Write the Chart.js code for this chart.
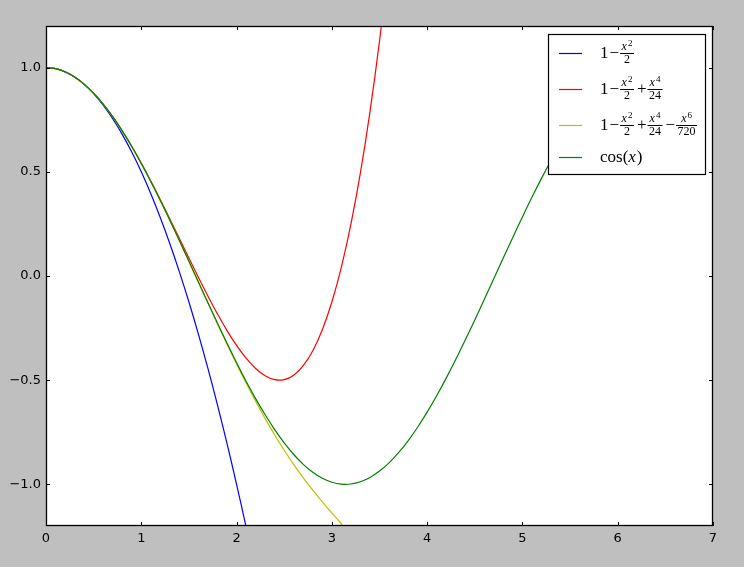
<!DOCTYPE html>
<html><head><meta charset="utf-8">
<style>html,body{margin:0;padding:0;background:#bfbfbf;overflow:hidden;}canvas{display:block;}</style>
<script src="https://cdn.jsdelivr.net/npm/chart.js@4.4.0/dist/chart.umd.min.js"></script>
</head><body>
<canvas id="c" width="744" height="567"></canvas>
<script>
// ---- data ----
const xValues = [0.0,0.1,0.2,0.3,0.4,0.5,0.6,0.7,0.8,0.9,1.0,1.1,1.2,1.3,1.4,1.5,1.6,1.7,1.8,1.9,
  2.0,2.1,2.2,2.3,2.4,2.5,2.6,2.7,2.8,2.9,3.0,3.1,3.2,3.3,3.4,3.5,3.6,3.7,3.8,3.9,
  4.0,4.1,4.2,4.3,4.4,4.5,4.6,4.7,4.8,4.9,5.0,5.1,5.2,5.3,5.4,5.5,5.6,5.7,5.8,5.9,
  6.0,6.1,6.2,6.3];
const taylor2 = [1.0,0.995,0.98,0.955,0.92,0.875,0.82,0.755,0.68,0.595,0.5,0.395,0.28,0.155,0.02,
  -0.125,-0.28,-0.445,-0.62,-0.805,-1.0,-1.205,-1.42];
const taylor4 = [1.0,0.995004,0.980067,0.955338,0.921067,0.877604,0.8254,0.765004,0.697067,0.622338,
  0.541667,0.456004,0.3664,0.274004,0.180067,0.085938,-0.006933,-0.096996,-0.1826,-0.261996,
  -0.333333,-0.394663,-0.443933,-0.478996,-0.4976,-0.497396,-0.475933,-0.430663,-0.358933,-0.257996,
  -0.125,0.043004,0.249067,0.496338,0.788067,1.127604,1.5184];
const taylor6 = [1.0,0.995004,0.980067,0.955337,0.921061,0.877582,0.825336,0.764842,0.696703,0.6216,
  0.540278,0.453544,0.362253,0.2673,0.169609,0.070117,-0.030235,-0.13052,-0.229839,-0.327338,
  -0.422222,-0.513783,-0.601405,-0.684601,-0.763021,-0.83648,-0.904983,-0.968747,-1.028225,-1.08414,
  -1.1375,-1.18964,-1.242241];
const cosine = [1.0,0.995004,0.980067,0.955336,0.921061,0.877583,0.825336,0.764842,0.696707,0.62161,
  0.540302,0.453596,0.362358,0.267499,0.169967,0.070737,-0.0292,-0.128844,-0.227202,-0.32329,
  -0.416147,-0.504846,-0.588501,-0.666276,-0.737394,-0.801144,-0.856889,-0.904072,-0.942222,-0.970958,
  -0.989992,-0.999135,-0.998295,-0.98748,-0.966798,-0.936457,-0.896758,-0.8481,-0.790968,-0.725932,
  -0.653644,-0.574824,-0.490261,-0.400799,-0.307333,-0.210796,-0.112153,-0.012389,0.087499,0.186512,
  0.283662,0.377978,0.468517,0.554374,0.634693,0.70867,0.775566,0.834713,0.88552,0.927478,
  0.96017,0.983268,0.996542,0.999859];
const xTicks = [0,1,2,3,4,5,6,7];
const yTicks = [-1.0,-0.5,0.0,0.5,1.0];
const seriesNames = ['1−x²/2','1−x²/2+x⁴/24','1−x²/2+x⁴/24−x⁶/720','cos(x)'];
const seriesColors = ['#0000ff','#ff0000','#bfbf00','#008000'];
const seriesValues = [taylor2, taylor4, taylor6, cosine];

// legend math labels (text pieces)
const legendMath = [
  [{t:'n',s:'1'},{t:'op',s:'−'},{t:'f',b:'x',e:'2',d:'2'}],
  [{t:'n',s:'1'},{t:'op',s:'−'},{t:'f',b:'x',e:'2',d:'2'},{t:'op',s:'+'},{t:'f',b:'x',e:'4',d:'24'}],
  [{t:'n',s:'1'},{t:'op',s:'−'},{t:'f',b:'x',e:'2',d:'2'},{t:'op',s:'+'},{t:'f',b:'x',e:'4',d:'24'},{t:'op',s:'−'},{t:'f',b:'x',e:'6',d:'720'}],
  [{t:'n',s:'cos'},{t:'n',s:'('},{t:'n',s:'x',it:true},{t:'n',s:')'}]
];

const SERIF = '"Liberation Serif", "DejaVu Serif", serif';
function drawMath(ctx, x, axisY, parts){
  ctx.textBaseline = 'alphabetic'; ctx.textAlign = 'left'; ctx.fillStyle = '#000';
  for (const p of parts){
    if (p.t === 'n'){
      ctx.font = (p.it ? 'italic ' : '') + '17px ' + SERIF;
      ctx.fillText(p.s, x, axisY + 5);
      x += ctx.measureText(p.s).width + (p.it ? 1 : 0);
    } else if (p.t === 'op'){
      x += 1;
      ctx.font = '17px ' + SERIF;
      ctx.fillText(p.s, x, axisY + 5);
      x += ctx.measureText(p.s).width + 1;
    } else if (p.t === 'f'){
      ctx.font = 'italic 12px ' + SERIF; const wb = ctx.measureText(p.b).width;
      ctx.font = '9px ' + SERIF; const ws = ctx.measureText(p.e).width;
      ctx.font = '12px ' + SERIF; const wd = ctx.measureText(p.d).width;
      const wn = wb + ws + 1;
      const W = Math.max(wn, wd) + 3;
      ctx.fillRect(x, axisY, W, 1);
      const nx = x + (W - wn) / 2;
      ctx.font = 'italic 12px ' + SERIF; ctx.fillText(p.b, nx, axisY - 3);
      ctx.font = '9px ' + SERIF; ctx.fillText(p.e, nx + wb + 1, axisY - 7);
      ctx.font = '12px ' + SERIF; ctx.fillText(p.d, x + (W - wd) / 2, axisY + 10);
      x += W + 2;
    }
  }
}

const frame = {
  id: 'frame',
  beforeDraw(chart){
    const {ctx, chartArea: a} = chart;
    ctx.save();
    ctx.fillStyle = '#bfbfbf'; ctx.fillRect(0, 0, chart.width, chart.height);
    ctx.fillStyle = '#ffffff'; ctx.fillRect(a.left, a.top, a.right - a.left, a.bottom - a.top);
    ctx.restore();
  },
  afterDatasetsDraw(chart){
    const {ctx, chartArea: a, scales} = chart;
    ctx.save();
    ctx.strokeStyle = '#000'; ctx.lineWidth = 1;
    ctx.beginPath();
    for (const v of xTicks){
      const px = Math.round(scales.x.getPixelForValue(v)) + 0.5;
      ctx.moveTo(px, a.bottom); ctx.lineTo(px, a.bottom - 4);
      ctx.moveTo(px, a.top); ctx.lineTo(px, a.top + 4);
    }
    for (const v of yTicks){
      const py = Math.round(scales.y.getPixelForValue(v)) + 0.5;
      ctx.moveTo(a.left, py); ctx.lineTo(a.left + 4, py);
      ctx.moveTo(a.right, py); ctx.lineTo(a.right - 4, py);
    }
    ctx.stroke();
    ctx.lineWidth = 1.3;
    ctx.strokeRect(a.left + 0.5, a.top + 0.5, a.right - a.left - 1, a.bottom - a.top - 1);
    ctx.restore();
  },
  afterDraw(chart){
    const ctx = chart.ctx;
    ctx.save();
    ctx.fillStyle = '#fff';
    ctx.fillRect(548, 34, 158, 141);
    ctx.strokeStyle = '#000'; ctx.lineWidth = 1.2;
    ctx.strokeRect(548.5, 34.5, 157, 140);
    const rows = [53, 89, 125, 157];
    rows.forEach((y, i) => {
      ctx.strokeStyle = seriesColors[i]; ctx.lineWidth = 1.2;
      ctx.beginPath(); ctx.moveTo(559, y + 0.5); ctx.lineTo(582, y + 0.5); ctx.stroke();
      drawMath(ctx, 600, y, legendMath[i]);
    });
    ctx.restore();
  }
};

const datasets = seriesValues.map((vals, i) => ({
  label: seriesNames[i],
  data: vals.map((v, j) => ({x: xValues[j], y: v})),
  borderColor: seriesColors[i],
  borderWidth: 1.2,
  pointRadius: 0,
  fill: false,
  tension: 0.4,
  order: 3 - i
}));

new Chart(document.getElementById('c'), {
  type: 'line',
  data: { datasets },
  options: {
    responsive: false,
    animation: false,
    devicePixelRatio: 1,
    layout: { padding: { top: 26, right: 31, left: 0, bottom: 0 } },
    plugins: { legend: { display: false }, tooltip: { enabled: false } },
    scales: {
      x: {
        type: 'linear', min: 0, max: 7,
        grid: { display: false, drawTicks: false },
        border: { display: false },
        afterBuildTicks: s => { s.ticks = xTicks.map(v => ({value: v})); },
        afterFit: s => { s.height = 41; },
        ticks: { color: '#000', padding: 5, maxRotation: 0, autoSkip: false,
          font: { family: '"DejaVu Sans"', size: 13 },
          callback: v => String(v) }
      },
      y: {
        type: 'linear', min: -1.2, max: 1.2,
        grid: { display: false, drawTicks: false },
        border: { display: false },
        afterBuildTicks: s => { s.ticks = yTicks.map(v => ({value: v})); },
        afterFit: s => { s.width = 46; },
        ticks: { color: '#000', padding: 5, autoSkip: false,
          font: { family: '"DejaVu Sans"', size: 13 },
          callback: v => (v < 0 ? '−' : '') + Math.abs(v).toFixed(1) }
      }
    }
  },
  plugins: [frame]
});
</script>
</body></html>
